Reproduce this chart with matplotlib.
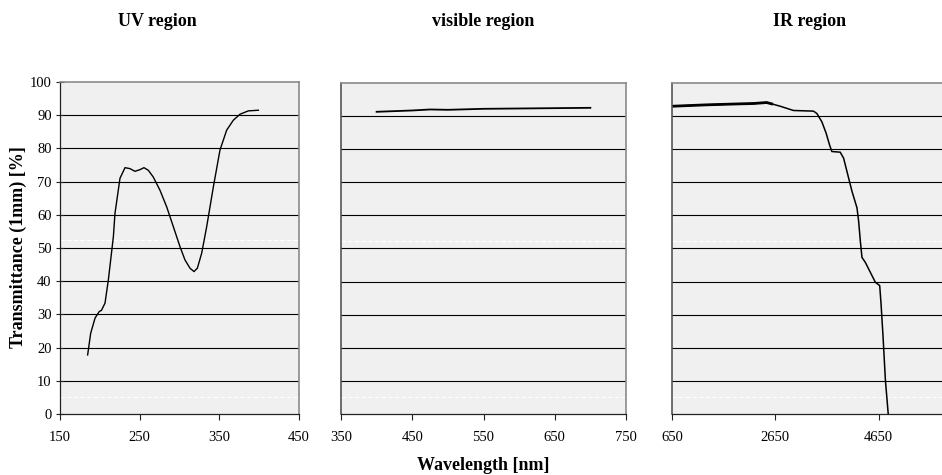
import numpy as np
import matplotlib.pyplot as plt

# UV region
uv_wl = [184.7, 188.5, 194, 199.4, 202, 206.5, 210.7, 217, 219, 225.3, 231.6, 237.9,
         244, 250.4, 255.4, 260.9, 267, 275.5, 283.9, 292.3, 300.6, 306.9, 313.2,
         318.2, 322.4, 327.8, 334.1, 342.5, 350.8, 359.2, 367.6, 376, 386.4, 399]
uv_tr = [17.8, 24.3, 28.9, 30.9, 31.2, 33.4, 40.4, 53.4, 60.4, 71, 74.2, 73.9,
         73.1, 73.6, 74.2, 73.4, 71.4, 67.4, 62.4, 56.4, 50.4, 46.4, 43.9,
         42.9, 43.9, 48.4, 56.4, 68.4, 79.5, 85.5, 88.5, 90.3, 91.3, 91.5]

# visible region
vis_wl = [400, 450, 475, 500, 550, 600, 650, 700]
vis_tr = [91.3, 91.7, 92.0, 91.9, 92.2, 92.3, 92.4, 92.5]

# IR region
ir_wl = [689, 1317, 1964, 2223, 2482, 2579, 2741, 3000, 3388, 3453, 3550, 3634,
         3699, 3744, 3906, 3971, 4036, 4133, 4230, 4262, 4295, 4327, 4392, 4489,
         4586, 4670, 4696, 4735, 4780, 4835]
ir_tr = [93, 93.4, 93.7, 93.8, 94.1, 93.7, 93, 91.7, 91.5, 90.8, 88.3, 84.8,
         81.3, 79.3, 79.1, 77.3, 73.3, 67.3, 62.3, 58.3, 52.3, 47.3, 45.8, 42.8,
         39.8, 38.8, 33.3, 23.3, 10.3, 0]

titles = ['UV region', 'visible region', 'IR region']
xlims = [(150, 450), (350, 750), (650, 6650)]
xticks = [[150, 250, 350, 450], [350, 450, 550, 650, 750], [650, 2650, 4650, 6650]]
xticklabels = [['150', '250', '350', '450'],
               ['350', '450', '550', '650', '750'],
               ['650', '2650', '4650', '']]

plt.rcParams['font.family'] = ['Liberation Serif', 'DejaVu Serif']

W, H = 942, 475
fig = plt.figure(figsize=(W / 100, H / 100), dpi=100)

# axes boxes in pixels: left, right, top, bottom
boxes = [(60, 299, 82, 414), (341, 626, 83, 414), (672, 982, 83, 414)]
series = [(uv_wl, uv_tr, 1.0), (vis_wl, vis_tr, 1.3), (ir_wl, ir_tr, 1.1)]
title_x = [157, 483, 810]

for i, (l, r, t, b) in enumerate(boxes):
    ax = fig.add_axes([l / W, 1 - b / H, (r - l) / W, (b - t) / H])
    ax.set_facecolor('#f0f0f0')
    ax.set_xlim(*xlims[i])
    ax.set_ylim(0, 100)
    for y in range(10, 100, 10):
        ax.axhline(y, color='black', lw=0.8, zorder=1)
    for y in (5.1, 52.4):
        ax.axhline(y, color='white', lw=0.8, ls=(0, (4, 2)), zorder=1)
    x, y, lw = series[i]
    if i == 2:
        # noisy start of the IR trace looks thicker
        ax.plot(x[:6], y[:6], color='black', lw=2.0, zorder=3)
    ax.plot(x, y, color='black', lw=lw, zorder=3)

    ax.set_xticks(xticks[i])
    ax.set_xticklabels(xticklabels[i], fontsize=10.5)
    ax.tick_params(axis='x', direction='out', length=4, width=0.8, pad=8,
                   color='#222222')
    for side in ('top', 'right'):
        ax.spines[side].set_color('#8a8a8a')
        ax.spines[side].set_linewidth(1.2)
    ax.spines['left'].set_color('#555555')
    ax.spines['left'].set_linewidth(1.2)
    ax.spines['bottom'].set_color('#222222')
    ax.spines['bottom'].set_linewidth(0.9)
    if i == 0:
        ax.set_yticks(range(0, 101, 10))
        ax.set_yticklabels([str(v) for v in range(0, 101, 10)], fontsize=10.5)
        ax.tick_params(axis='y', direction='inout', length=6, width=0.8, pad=3,
                       color='#222222')
        ax.spines['left'].set_color('#222222')
        ax.spines['left'].set_linewidth(0.9)
    else:
        ax.set_yticks([])

    fig.text(title_x[i] / W, 1 - 21 / H, titles[i], ha='center', va='center',
             fontsize=13, fontweight='bold')

fig.text(483 / W, 1 - 466 / H, 'Wavelength [nm]', ha='center', va='center',
         fontsize=13, fontweight='bold')
fig.text(18 / W, 1 - 247 / H, 'Transmittance (1mm) [%]', ha='center', va='center',
         rotation=90, fontsize=13, fontweight='bold')

fig.savefig('out.png', dpi=100)
